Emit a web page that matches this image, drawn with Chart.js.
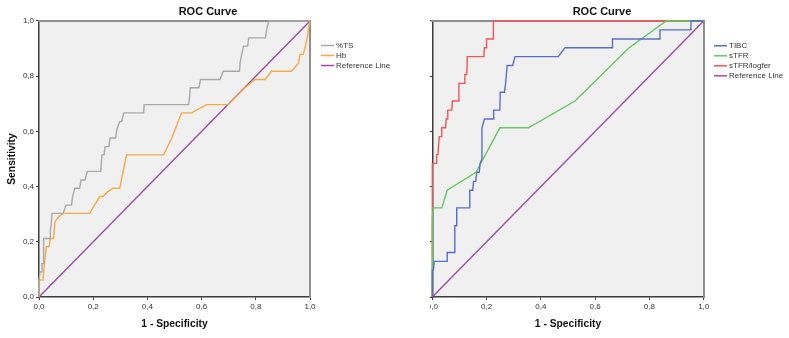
<!DOCTYPE html>
<html>
<head>
<meta charset="utf-8">
<script src="https://cdn.jsdelivr.net/npm/chart.js@4/dist/chart.umd.min.js"></script>
<style>
  html, body { margin: 0; padding: 0; background: #ffffff; width: 789px; height: 338px; overflow: hidden; }
  canvas { position: absolute; top: 0; }
  #c1 { left: 0px; }
  #c2 { left: 430px; }
</style>
</head>
<body>
<canvas id="c1" width="430" height="338"></canvas>
<canvas id="c2" width="359" height="338"></canvas>
<script>
// ---------- data ----------
const tickValues = [0, 0.2, 0.4, 0.6, 0.8, 1.0];
const tickLabels = ["0,0", "0,2", "0,4", "0,6", "0,8", "1,0"];

const leftNames = ["%TS", "Hb", "Reference Line"];
const rightNames = ["TIBC", "sTFR", "sTFR/logfer", "Reference Line"];

// %TS
const tsX = [0, 0, 0.004, 0.011, 0.011, 0.017, 0.017, 0.042, 0.042, 0.046, 0.048, 0.089, 0.1, 0.12, 0.124, 0.132, 0.15, 0.155, 0.17, 0.178, 0.228, 0.232, 0.24, 0.244, 0.258, 0.262, 0.283, 0.287, 0.298, 0.305, 0.313, 0.386, 0.388, 0.552, 0.556, 0.558, 0.59, 0.596, 0.668, 0.68, 0.74, 0.742, 0.748, 0.755, 0.77, 0.774, 0.836, 0.84, 0.848, 1];
const tsY = [0, 0.061, 0.091, 0.091, 0.121, 0.121, 0.212, 0.212, 0.242, 0.273, 0.303, 0.303, 0.333, 0.333, 0.364, 0.394, 0.394, 0.424, 0.424, 0.455, 0.455, 0.515, 0.515, 0.545, 0.545, 0.576, 0.576, 0.606, 0.636, 0.636, 0.667, 0.667, 0.697, 0.697, 0.727, 0.758, 0.758, 0.788, 0.788, 0.818, 0.818, 0.848, 0.879, 0.909, 0.909, 0.939, 0.939, 0.97, 1, 1];
// Hb
const hbX = [0, 0, 0.015, 0.02, 0.027, 0.037, 0.042, 0.054, 0.059, 0.07, 0.089, 0.187, 0.205, 0.224, 0.236, 0.25, 0.273, 0.298, 0.323, 0.46, 0.49, 0.526, 0.563, 0.618, 0.698, 0.76, 0.797, 0.834, 0.858, 0.932, 0.958, 0.963, 0.975, 0.983, 0.99, 0.994, 1];
const hbY = [0, 0.061, 0.061, 0.121, 0.182, 0.182, 0.212, 0.212, 0.273, 0.288, 0.303, 0.303, 0.333, 0.364, 0.364, 0.379, 0.394, 0.394, 0.515, 0.515, 0.576, 0.667, 0.667, 0.697, 0.697, 0.758, 0.788, 0.788, 0.818, 0.818, 0.848, 0.879, 0.879, 0.909, 0.939, 0.97, 1];
// Reference line
const refX = [0, 1];
const refY = [0, 1];
// TIBC
const tibcX = [0, 0, 0.004, 0.007, 0.055, 0.055, 0.081, 0.083, 0.088, 0.09, 0.136, 0.138, 0.149, 0.152, 0.16, 0.164, 0.173, 0.176, 0.183, 0.183, 0.192, 0.225, 0.226, 0.249, 0.25, 0.266, 0.27, 0.276, 0.296, 0.305, 0.464, 0.489, 0.664, 0.664, 0.839, 0.839, 0.953, 0.953, 1];
const tibcY = [0, 0.097, 0.097, 0.129, 0.129, 0.161, 0.161, 0.258, 0.258, 0.323, 0.323, 0.387, 0.387, 0.419, 0.419, 0.452, 0.452, 0.484, 0.5, 0.613, 0.645, 0.645, 0.677, 0.677, 0.742, 0.742, 0.774, 0.839, 0.839, 0.871, 0.871, 0.903, 0.903, 0.935, 0.935, 0.968, 0.968, 1, 1];
// sTFR
const stfrX = [0, 0, 0.004, 0.035, 0.055, 0.161, 0.249, 0.354, 0.526, 0.725, 0.862, 1];
const stfrY = [0, 0.29, 0.323, 0.323, 0.387, 0.452, 0.613, 0.613, 0.71, 0.903, 1, 1];
// sTFR/logfer
const ratioX = [0, 0, 0.016, 0.016, 0.021, 0.023, 0.026, 0.033, 0.035, 0.049, 0.051, 0.056, 0.057, 0.072, 0.074, 0.096, 0.098, 0.118, 0.12, 0.127, 0.129, 0.19, 0.192, 0.199, 0.2, 0.224, 0.225, 1];
const ratioY = [0, 0.484, 0.484, 0.516, 0.516, 0.548, 0.581, 0.581, 0.613, 0.613, 0.645, 0.645, 0.677, 0.677, 0.71, 0.71, 0.774, 0.774, 0.806, 0.806, 0.871, 0.871, 0.903, 0.903, 0.935, 0.935, 1, 1];

// ---------- styling ----------
const FONT = '"Liberation Sans", Arial, Helvetica, sans-serif';
const C_TS = '#a9a9a9', C_HB = '#f7a945', C_REF = '#9b4ea5';
const C_TIBC = '#5670c8', C_STFR = '#62c862', C_RATIO = '#f05656';
const AXIS_DARK = '#3c3c3c', BORDER_GREY = '#8e8e8e', PLOT_BG = '#f0f0f0';

function pts(xs, ys) { return xs.map((x, i) => ({ x: x, y: ys[i] })); }
function ds(label, xs, ys, color) {
  return { label: label, data: pts(xs, ys), borderColor: color, backgroundColor: color,
           borderWidth: 1.4, pointRadius: 0, pointHoverRadius: 0, tension: 0, fill: false, clip: 4 };
}

const bgPlugin = {
  id: 'plotBg',
  beforeDraw(chart) {
    const a = chart.chartArea, ctx = chart.ctx;
    ctx.save();
    ctx.fillStyle = PLOT_BG;
    ctx.fillRect(a.left, a.top, a.right - a.left, a.bottom - a.top);
    ctx.restore();
  }
};

const legendPlugin = {
  id: 'rocLegend',
  afterDraw(chart, args, opts) {
    const ctx = chart.ctx;
    ctx.save();
    ctx.font = '8px ' + FONT;
    ctx.textBaseline = 'middle';
    ctx.textAlign = 'left';
    chart.data.datasets.forEach((d, i) => {
      const y = opts.y + i * opts.gap;
      ctx.strokeStyle = d.borderColor;
      ctx.lineWidth = 1.5;
      ctx.beginPath();
      ctx.moveTo(opts.x, y);
      ctx.lineTo(opts.x + opts.len, y);
      ctx.stroke();
      ctx.fillStyle = '#333333';
      ctx.fillText(d.label, opts.x + opts.len + 2, y);
    });
    ctx.restore();
  }
};

function makeScales(cfg) {
  const tickGrid = { display: true, drawOnChartArea: false, drawTicks: true, tickLength: 3, color: AXIS_DARK, lineWidth: 1 };
  return {
    x: {
      type: 'linear', position: 'bottom', min: 0, max: 1,
      afterBuildTicks: (s) => { s.ticks = tickValues.map(v => ({ value: v })); },
      ticks: { callback: (v, i) => tickLabels[i], font: { family: FONT, size: 8 }, color: '#333333', padding: 2, maxRotation: 0, autoSkip: false },
      grid: tickGrid,
      border: { display: true, color: AXIS_DARK, width: 1.5 },
      title: { display: true, text: '1 - Specificity', color: '#111111', font: { family: FONT, size: 10.3, weight: 'bold' }, padding: { top: 0, bottom: 7.5 } },
      afterFit: (s) => { s.height = 41; s.paddingLeft = 0; s.paddingRight = 0; }
    },
    y: {
      type: 'linear', position: 'left', min: 0, max: 1,
      afterBuildTicks: (s) => { s.ticks = tickValues.map(v => ({ value: v })); },
      ticks: { display: cfg.yLabels, callback: (v, i) => tickLabels[i], font: { family: FONT, size: 8 }, color: '#333333', padding: 2 },
      grid: tickGrid,
      border: { display: true, color: AXIS_DARK, width: 1.5 },
      title: { display: cfg.yTitle, text: 'Sensitivity', color: '#111111', font: { family: FONT, size: 10.3, weight: 'bold' }, padding: { top: 5.5, bottom: 0 } },
      afterFit: (s) => { s.width = cfg.yWidth; s.paddingTop = 0; s.paddingBottom = 0; }
    },
    xTop: {
      type: 'linear', position: 'top', min: 0, max: 1, display: true,
      ticks: { display: false }, grid: { display: false },
      border: { display: true, color: BORDER_GREY, width: 2 },
      afterFit: (s) => { s.height = 2.7; s.paddingLeft = 0; s.paddingRight = 0; }
    },
    yRight: {
      type: 'linear', position: 'right', min: 0, max: 1, display: true,
      ticks: { display: false }, grid: { display: false },
      border: { display: true, color: BORDER_GREY, width: 2 },
      afterFit: (s) => { s.width = cfg.rightWidth; s.paddingTop = 0; s.paddingBottom = 0; }
    }
  };
}

function makeOptions(cfg) {
  return {
    responsive: false, animation: false, events: [],
    layout: { padding: { left: 0, right: cfg.padRight, top: 0, bottom: 0 } },
    plugins: {
      title: { display: true, text: 'ROC Curve', color: '#111111', font: { family: FONT, size: 11, weight: 'bold' }, padding: { top: 5.1, bottom: 0 } },
      legend: { display: false },
      tooltip: { enabled: false },
      rocLegend: cfg.legend
    },
    scales: makeScales(cfg)
  };
}

new Chart(document.getElementById('c1'), {
  type: 'line',
  data: { datasets: [
    ds(leftNames[0], tsX, tsY, C_TS),
    ds(leftNames[1], hbX, hbY, C_HB),
    ds(leftNames[2], refX, refY, C_REF)
  ] },
  options: makeOptions({ yLabels: true, yTitle: true, yWidth: 39, rightWidth: 106, padRight: 14,
                         legend: { x: 321, y: 45.5, gap: 10, len: 13 } }),
  plugins: [bgPlugin, legendPlugin]
});

new Chart(document.getElementById('c2'), {
  type: 'line',
  data: { datasets: [
    ds(rightNames[0], tibcX, tibcY, C_TIBC),
    ds(rightNames[1], stfrX, stfrY, C_STFR),
    ds(rightNames[2], ratioX, ratioY, C_RATIO),
    ds(rightNames[3], refX, refY, C_REF)
  ] },
  options: makeOptions({ yLabels: false, yTitle: false, yWidth: 2.3, rightWidth: 70.3, padRight: 15,
                         legend: { x: 284, y: 45.8, gap: 10, len: 13 } }),
  plugins: [bgPlugin, legendPlugin]
});
</script>
</body>
</html>
